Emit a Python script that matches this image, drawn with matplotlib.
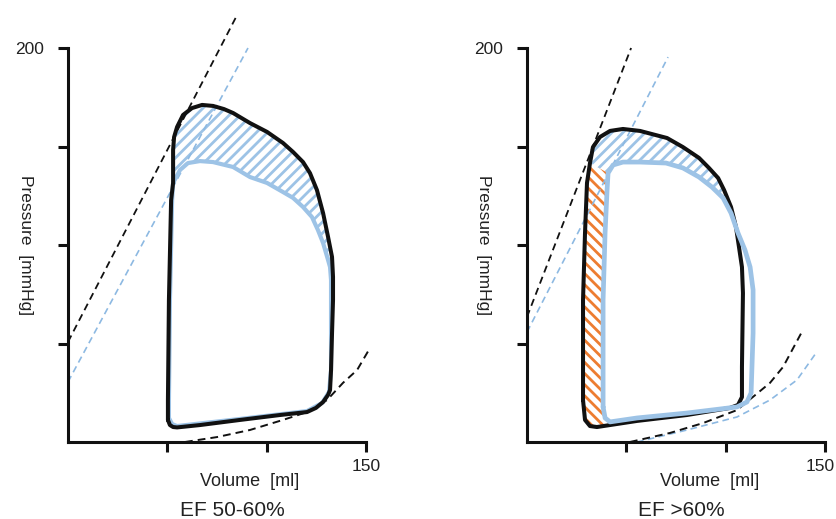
import matplotlib
matplotlib.use("Agg")
import matplotlib.pyplot as plt
from matplotlib.patches import Polygon
from matplotlib.transforms import ScaledTranslation

plt.rcParams['font.family'] = ['Liberation Sans', 'DejaVu Sans']
plt.rcParams['hatch.linewidth'] = 2.0

# ---------------- data (volume [ml], pressure [mmHg]) ----------------
# Panel 1: EF 50-60%
p1_black_vol = [50.3, 51.3, 52.9, 54.9, 66.4, 86.6, 106.7, 120.3, 124.8, 128.4, 130.9, 131.9,
                132.4, 132.9, 133.4, 133.4, 132.9, 130.9, 128.4, 125.3, 121.8, 118.3, 113.3, 108.2,
                100.2, 91.6, 83.1, 78.5, 73.0, 67.5, 62.4, 57.9, 54.9, 53.4, 52.9, 52.9, 51.9,
                50.8, 50.3, 50.3]
p1_black_p = [11.2, 8.6, 7.6, 7.4, 8.6, 11.2, 13.7, 15.2, 17.3, 20.3, 23.9, 26.4,
              36.5, 55.3, 72.1, 83.8, 93.9, 104.1, 116.2, 127.9, 136.5, 142.1, 147.2, 151.8,
              157.4, 161.9, 167.0, 169.0, 170.6, 171.1, 169.5, 166.0, 159.9, 154.8, 148.2, 131.5, 122.8,
              72.1, 21.3, 11.2]
p1_blue_vol = [50.8, 52.4, 54.9, 86.6, 120.3, 127.9, 131.4, 132.4, 132.4, 132.4, 131.9, 130.9,
               128.4, 125.8, 122.8, 118.3, 113.3, 108.2, 100.2, 91.6, 83.1, 73.0, 66.4, 60.4,
               56.4, 52.9, 52.4, 51.3, 50.8, 50.8]
p1_blue_p = [12.2, 9.1, 8.1, 11.7, 15.7, 19.8, 25.4, 36.5, 72.1, 82.2, 88.8, 92.4,
             101.0, 107.6, 114.2, 119.3, 123.9, 126.9, 131.5, 134.5, 139.6, 142.1, 142.6, 141.6,
             138.1, 131.5, 122.8, 72.1, 21.3, 12.2]
p1_espvr_black_vol = [0.0, 85.1]
p1_espvr_black_p = [50.8, 216.7]
p1_espvr_blue_vol = [0.0, 90.6]
p1_espvr_blue_p = [30.5, 200.0]
p1_edpvr_black_vol = [58.9, 75.0, 91.6, 108.2, 120.3, 130.4, 138.4, 145.5, 152.0]
p1_edpvr_black_p = [0.0, 2.5, 6.1, 11.2, 15.2, 21.3, 30.0, 36.5, 47.7]

# Panel 2: EF >60%
p2_black_vol = [28.2, 29.2, 31.7, 35.2, 55.4, 80.5, 102.2, 106.2, 108.2, 108.2, 108.7, 108.2,
                106.7, 105.2, 102.7, 99.2, 96.2, 91.6, 86.6, 78.5, 70.5, 56.9, 48.3, 41.8,
                36.7, 33.2, 31.7, 30.2, 29.2, 28.2, 28.2]
p2_black_p = [21.3, 11.2, 8.1, 7.6, 10.7, 13.7, 17.3, 18.8, 22.8, 38.1, 75.6, 88.8,
              99.0, 109.1, 119.3, 127.9, 134.0, 139.1, 144.2, 149.7, 154.3, 157.9, 158.9, 157.9,
              154.8, 149.7, 141.6, 131.5, 106.1, 72.1, 21.3]
p2_blue_vol = [38.3, 39.3, 41.8, 55.4, 80.5, 105.7, 110.7, 112.8, 113.8, 113.8, 112.3, 109.7,
               106.2, 102.7, 98.7, 93.1, 86.6, 78.5, 70.0, 56.9, 48.3, 43.3, 40.8, 40.3,
               39.3, 38.3, 38.3]
p2_blue_p = [17.8, 12.2, 10.2, 12.2, 14.7, 17.8, 20.3, 24.9, 55.3, 77.2, 88.8, 97.5,
             106.1, 116.2, 123.9, 129.4, 134.5, 139.1, 141.6, 142.1, 142.1, 140.6, 136.5, 127.9,
             106.1, 72.1, 17.8]
p2_espvr_black_vol = [0.0, 52.4]
p2_espvr_black_p = [63.5, 200.0]
p2_espvr_blue_vol = [0.0, 71.0]
p2_espvr_blue_p = [55.8, 195.4]
p2_edpvr_black_vol = [51.8, 72.0, 88.6, 105.7, 122.3, 128.9, 138.9]
p2_edpvr_black_p = [0.0, 4.6, 9.6, 16.2, 30.0, 38.1, 56.9]
p2_edpvr_blue_vol = [55.4, 80.5, 105.7, 122.3, 135.9, 145.5]
p2_edpvr_blue_p = [0.0, 6.1, 12.7, 21.3, 31.5, 45.2]

y_ticks = [50, 100, 150, 200]
y_ticklabels = ['', '', '', '200']
x_ticks = [50, 100, 150]
x_ticklabels = ['', '', '150']

BLACK = '#111111'
BLUE = '#9dc3e6'
BLUE_D = '#8db9e2'
ORANGE = '#ed7d31'
TXT = '#222222'

W, H = 836, 519
fig = plt.figure(figsize=(W / 100, H / 100), dpi=100)


def pts(v, p):
    return list(zip(v, p))


def style_axes(ax):
    ax.set_xlim(0, 150)
    ax.set_ylim(0, 200)
    for s in ['top', 'right']:
        ax.spines[s].set_visible(False)
    for s in ['left', 'bottom']:
        ax.spines[s].set_linewidth(2.2)
        ax.spines[s].set_color(BLACK)
        ax.spines[s].set_capstyle('projecting')
    ax.set_yticks(y_ticks)
    ax.set_yticklabels(y_ticklabels)
    ax.set_xticks(x_ticks)
    ax.set_xticklabels(x_ticklabels)
    ax.tick_params(axis='both', direction='out', length=7, width=2.2, color=BLACK,
                   labelsize=12.5, labelcolor=TXT)
    ax.tick_params(axis='y', pad=10)
    ax.tick_params(axis='x', pad=5)
    ax.patch.set_visible(False)


def dashed(ax, v, p, color, lw, z):
    ax.plot(v, p, color=color, lw=lw, ls=(0, (4, 2.6)), clip_on=False, zorder=z)


def loop(ax, v, p, color, lw, z):
    ax.plot(v, p, color=color, lw=lw, solid_joinstyle='round', solid_capstyle='round',
            clip_on=False, zorder=z)


# ---------------- panel 1 ----------------
ax1 = fig.add_axes([68 / W, 77 / H, 298 / W, 394 / H])
style_axes(ax1)
b1 = pts(p1_black_vol, p1_black_p)
u1 = pts(p1_blue_vol, p1_blue_p)
hatch1 = b1[15:36] + u1[24:8:-1]
ax1.add_patch(Polygon(hatch1, closed=True, facecolor='none', edgecolor=BLUE, lw=0,
                      hatch='///', zorder=1, clip_on=False))
dashed(ax1, p1_espvr_blue_vol, p1_espvr_blue_p, BLUE_D, 1.2, 2)
dashed(ax1, p1_espvr_black_vol, p1_espvr_black_p, BLACK, 1.3, 3)
dashed(ax1, p1_edpvr_black_vol, p1_edpvr_black_p, BLACK, 1.4, 3)
loop(ax1, p1_blue_vol, p1_blue_p, BLUE, 3.0, 4)
loop(ax1, p1_black_vol, p1_black_p, BLACK, 2.9, 5)

# ---------------- panel 2 ----------------
ax2 = fig.add_axes([527 / W, 77 / H, 298 / W, 394 / H])
style_axes(ax2)
# keep the "150" label inside the figure edge
lab = ax2.get_xticklabels()[-1]
lab.set_ha('right')
lab.set_transform(lab.get_transform() + ScaledTranslation(10 / 100, 0, fig.dpi_scale_trans))

b2 = pts(p2_black_vol, p2_black_p)
u2 = pts(p2_blue_vol, p2_blue_p)
hatch2_blue = b2[13:27] + u2[22:11:-1]
hatch2_orange = b2[26:30] + b2[0:4] + u2[2::-1] + u2[25:21:-1]
ax2.add_patch(Polygon(hatch2_blue, closed=True, facecolor='none', edgecolor=BLUE, lw=0,
                      hatch='///', zorder=1, clip_on=False))
ax2.add_patch(Polygon(hatch2_orange, closed=True, facecolor='none', edgecolor=ORANGE, lw=0,
                      hatch='\\\\\\', zorder=1, clip_on=False))
dashed(ax2, p2_espvr_blue_vol, p2_espvr_blue_p, BLUE_D, 1.2, 2)
dashed(ax2, p2_espvr_black_vol, p2_espvr_black_p, BLACK, 1.3, 3)
dashed(ax2, p2_edpvr_blue_vol, p2_edpvr_blue_p, BLUE_D, 1.2, 2)
dashed(ax2, p2_edpvr_black_vol, p2_edpvr_black_p, BLACK, 1.4, 3)
loop(ax2, p2_black_vol, p2_black_p, BLACK, 2.9, 4)
loop(ax2, p2_blue_vol, p2_blue_p, BLUE, 3.4, 5)


# ---------------- texts ----------------
def ftext(x, y, s, **kw):
    fig.text(x / W, 1 - y / H, s, ha='center', va='center', color=TXT, **kw)


ftext(25, 245, 'Pressure  [mmHg]', fontsize=12.5, rotation=-90)
ftext(484, 245, 'Pressure  [mmHg]', fontsize=12.5, rotation=-90)
ftext(250, 481, 'Volume  [ml]', fontsize=13)
ftext(710, 481, 'Volume  [ml]', fontsize=13)
ftext(232, 510, 'EF 50-60%', fontsize=15)
ftext(681, 510, 'EF >60%', fontsize=15)

fig.savefig('out.png', dpi=100)
